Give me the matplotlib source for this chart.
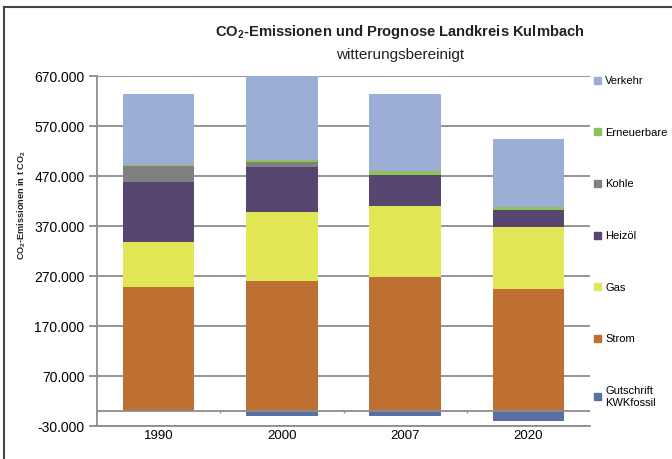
import numpy as np
import matplotlib
matplotlib.use("Agg")
import matplotlib.pyplot as plt
from matplotlib.lines import Line2D
from matplotlib.patches import Patch
from matplotlib.ticker import FuncFormatter

plt.rcParams["font.family"] = ["Liberation Sans", "DejaVu Sans"]
plt.rcParams["mathtext.fontset"] = "custom"
plt.rcParams["mathtext.rm"] = "Liberation Sans"
plt.rcParams["mathtext.bf"] = "Liberation Sans:bold"

# Daten (t CO2)
years = ["1990", "2000", "2007", "2020"]
gutschrift = [0, -10000, -10000, -19000]
strom = [248000, 260000, 269000, 245000]
gas = [90000, 138000, 141000, 123000]
heizoel = [121000, 90000, 63000, 35000]
kohle = [32000, 10000, 0, 0]
erneuerbare = [2000, 5000, 8000, 5000]
verkehr = [142000, 167000, 154000, 137000]

y_ticks = [-30000, 70000, 170000, 270000, 370000, 470000, 570000, 670000]

series = [
    ("Strom", strom, "#bd7031"),
    ("Gas", gas, "#e0e656"),
    ("Heizöl", heizoel, "#574670"),
    ("Kohle", kohle, "#808080"),
    ("Erneuerbare", erneuerbare, "#8cc257"),
    ("Verkehr", verkehr, "#9aaed6"),
]
COL_GUT = "#5a6fa3"
COL_GRID = "#8c8c8c"

W, H = 672, 459
fig = plt.figure(figsize=(W / 100, H / 100), dpi=100)
fig.patch.set_facecolor("white")
ax = fig.add_axes([97 / W, 1 - 426 / H, (590 - 97) / W, (426 - 76) / H])

x = np.arange(len(years))
ancho = 0.58

# Gitter
ax.set_ylim(y_ticks[0], y_ticks[-1])
ax.set_xlim(-0.5, len(years) - 0.5)
ax.set_yticks(y_ticks)
ax.yaxis.grid(True, color=COL_GRID, linewidth=1.3)
ax.set_axisbelow(True)

# Balken
ax.bar(x, gutschrift, ancho, color=COL_GUT, zorder=3)
bottom = np.zeros(len(years))
for name, vals, col in series:
    ax.bar(x, vals, ancho, bottom=bottom, color=col, zorder=3)
    bottom += np.array(vals)

# Nulllinie mit Kategorie-Ticks
ax.axhline(0, color=COL_GRID, linewidth=1.3, zorder=4)
ax.vlines(x + 0.5, -4000, 0, color=COL_GRID, linewidth=1.0, zorder=4)

ax.yaxis.set_major_formatter(FuncFormatter(lambda v, p: f"{v:,.0f}".replace(",", ".")))
ax.set_xticks(x)
ax.set_xticklabels(years)
ax.tick_params(axis="x", length=0, pad=3, labelsize=9.5)
ax.tick_params(axis="y", length=6, width=1.3, color=COL_GRID, pad=3, labelsize=10)
for s in ["top", "right"]:
    ax.spines[s].set_visible(False)
for s in ["left", "bottom"]:
    ax.spines[s].set_color(COL_GRID)
    ax.spines[s].set_linewidth(1.3)

# Titel
fig.text(400 / W, 1 - 32 / H, r"CO$_\mathbf{2}$-Emissionen und Prognose Landkreis Kulmbach",
         ha="center", va="center", fontsize=10.6, fontweight="bold", color="#222222")
fig.text(400 / W, 1 - 55 / H, "witterungsbereinigt", ha="center", va="center",
         fontsize=11, color="#222222")
fig.text(22 / W, 1 - 205 / H, r"CO$_\mathbf{2}$-Emissionen in t CO$_\mathbf{2}$",
         rotation=90, ha="center", va="center", fontsize=6.6, fontweight="bold",
         color="#222222")

# Legende
handles = [Patch(color=col, label=name) for name, _, col in series][::-1]
handles.append(Patch(color=COL_GUT, label="Gutschrift\nKWKfossil"))
ax.legend(handles=handles, loc="upper left", bbox_to_anchor=(594 / W, 1 - 76 / H),
          bbox_transform=fig.transFigure, frameon=False, fontsize=8,
          handlelength=0.6, handleheight=0.6, handletextpad=0.4,
          labelspacing=3.75, borderaxespad=0, borderpad=0)

# Rahmen
fig.add_artist(Line2D([4 / W, 1], [1 - 7 / H] * 2, transform=fig.transFigure,
                      color="#444444", linewidth=1.5))
fig.add_artist(Line2D([4 / W] * 2, [0, 1 - 7 / H], transform=fig.transFigure,
                      color="#444444", linewidth=1.5))

fig.savefig("out.png", dpi=100, facecolor="white")
